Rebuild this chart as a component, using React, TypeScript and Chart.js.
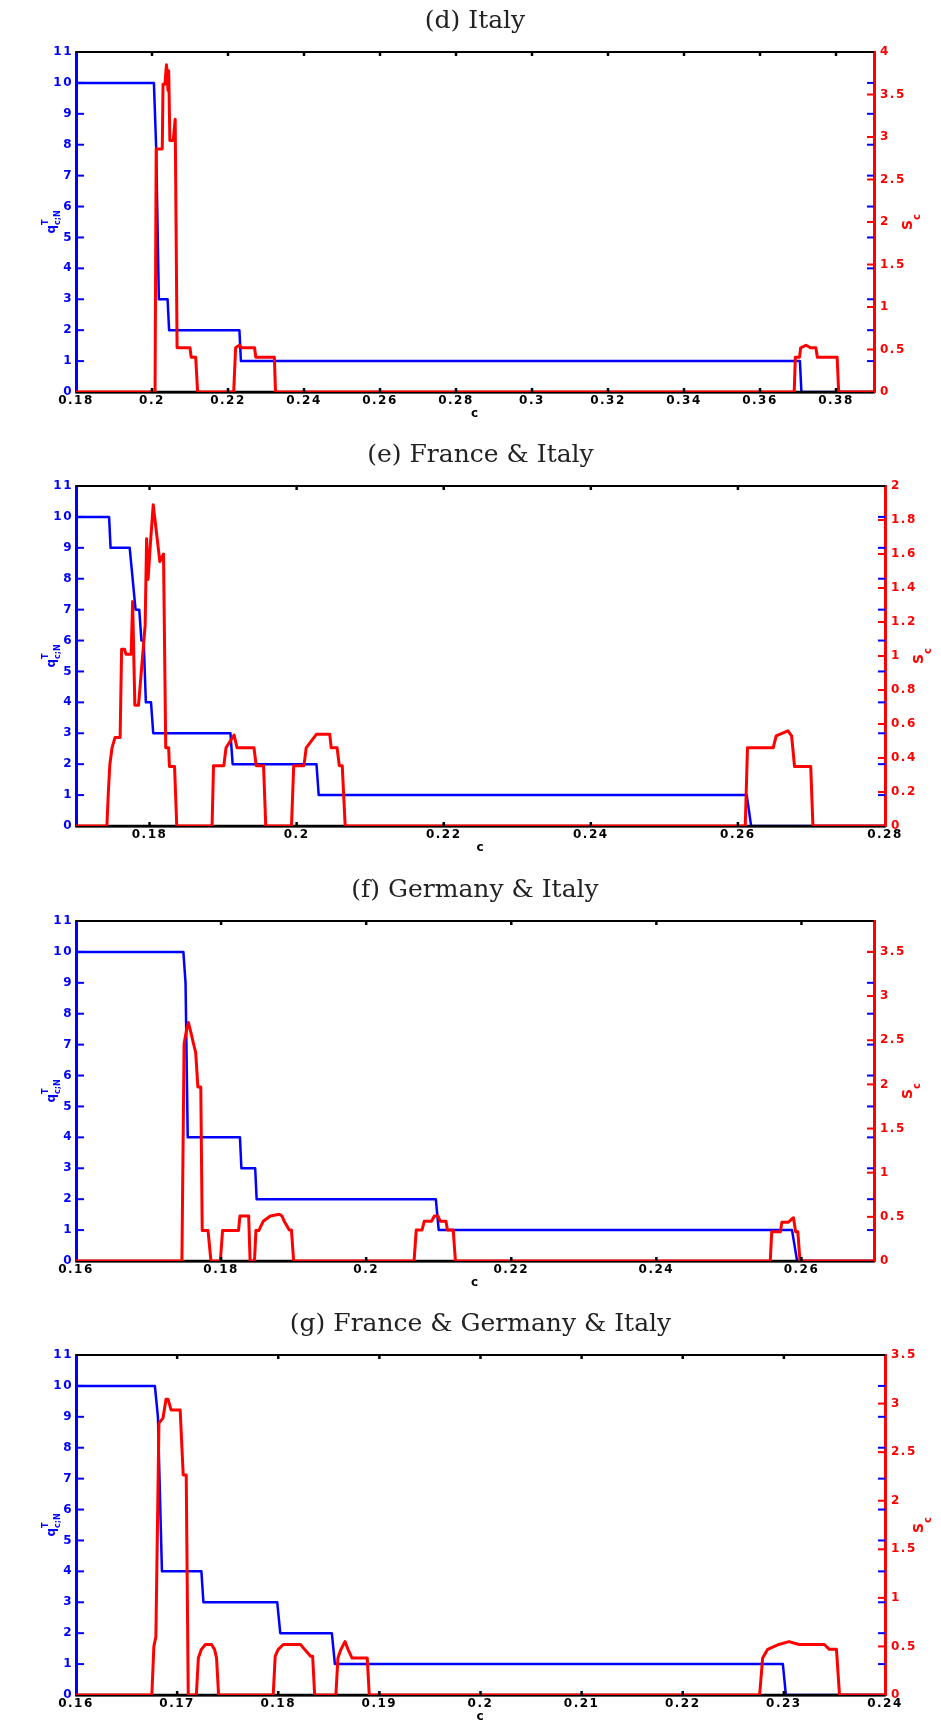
import React, { useEffect, useRef } from "react";
import { Chart, registerables } from "chart.js";

Chart.register(...registerables);

const BLUE = "#0000ff";
const RED = "#ff0000";

// ---------- data ----------
const Q_TICKS = [0, 1, 2, 3, 4, 5, 6, 7, 8, 9, 10, 11];

// (d) Italy
const ITALY_C_TICKS = [0.18, 0.2, 0.22, 0.24, 0.26, 0.28, 0.3, 0.32, 0.34, 0.36, 0.38];
const ITALY_S_TICKS = [0, 0.5, 1, 1.5, 2, 2.5, 3, 3.5, 4];
const ITALY_Q: [number, number][] = [
  [0.18, 10], [0.2005, 10], [0.2011, 7.9], [0.2018, 3], [0.2041, 3], [0.2045, 2], [0.223, 2],
  [0.2234, 1], [0.3705, 1], [0.3709, 0], [0.39, 0],
];
const ITALY_S: [number, number][] = [
  [0.18, 0], [0.2008, 0], [0.2011, 2.86], [0.2027, 2.86], [0.2029, 3.62], [0.2034, 3.62],
  [0.2038, 3.85], [0.204, 3.75], [0.2042, 3.55], [0.2044, 3.78], [0.2047, 2.96], [0.2056, 2.96],
  [0.2061, 3.21], [0.2062, 3.21], [0.2066, 0.52], [0.21, 0.52], [0.2103, 0.41], [0.2115, 0.41],
  [0.212, 0], [0.2215, 0], [0.222, 0.52], [0.223, 0.55], [0.2236, 0.52], [0.227, 0.52],
  [0.2273, 0.41], [0.2322, 0.41], [0.2325, 0], [0.369, 0], [0.3693, 0.41], [0.3704, 0.41],
  [0.3707, 0.52], [0.3721, 0.55], [0.3733, 0.52], [0.3747, 0.52], [0.3751, 0.41], [0.3803, 0.41],
  [0.3807, 0], [0.39, 0],
];

// (e) France & Italy
const FR_IT_C_TICKS = [0.18, 0.2, 0.22, 0.24, 0.26, 0.28];
const FR_IT_S_TICKS = [0, 0.2, 0.4, 0.6, 0.8, 1, 1.2, 1.4, 1.6, 1.8, 2];
const FR_IT_Q: [number, number][] = [
  [0.17, 10], [0.1745, 10], [0.1747, 9], [0.1773, 9], [0.1781, 7], [0.1786, 7], [0.1789, 6],
  [0.1792, 6], [0.1795, 4], [0.1802, 4], [0.1805, 3], [0.191, 3], [0.1913, 2], [0.2027, 2],
  [0.203, 1], [0.2612, 1], [0.2618, 0], [0.28, 0],
];
const FR_IT_S: [number, number][] = [
  [0.17, 0], [0.1742, 0], [0.1744, 0.2], [0.1746, 0.36], [0.1749, 0.46], [0.1753, 0.52],
  [0.176, 0.52], [0.1762, 1.04], [0.1766, 1.04], [0.1768, 1.01], [0.1775, 1.01], [0.1777, 1.32],
  [0.178, 0.71], [0.1785, 0.71], [0.1794, 1.18], [0.1796, 1.69], [0.1798, 1.45], [0.1801, 1.65],
  [0.1805, 1.89], [0.1814, 1.555], [0.1819, 1.6], [0.1822, 0.46], [0.1826, 0.46], [0.1827, 0.35],
  [0.1834, 0.35], [0.1837, 0],
  [0.1885, 0], [0.1887, 0.355], [0.1901, 0.355], [0.1904, 0.46], [0.1915, 0.535], [0.1919, 0.46],
  [0.1942, 0.46], [0.1945, 0.355], [0.1955, 0.355], [0.1958, 0],
  [0.1993, 0], [0.1996, 0.355], [0.201, 0.355], [0.2013, 0.46], [0.2027, 0.54], [0.2045, 0.54],
  [0.2047, 0.46], [0.2055, 0.46], [0.2058, 0.355], [0.2062, 0.355], [0.2066, 0],
  [0.261, 0], [0.2613, 0.46], [0.2648, 0.46], [0.2652, 0.53], [0.2668, 0.56], [0.2673, 0.53],
  [0.2677, 0.35], [0.2699, 0.35], [0.2702, 0], [0.28, 0],
];

// (f) Germany & Italy
const GE_IT_C_TICKS = [0.16, 0.18, 0.2, 0.22, 0.24, 0.26];
const GE_IT_S_TICKS = [0, 0.5, 1, 1.5, 2, 2.5, 3, 3.5];
const GE_IT_Q: [number, number][] = [
  [0.16, 10], [0.1748, 10], [0.1751, 9], [0.1754, 4], [0.1826, 4], [0.1828, 3], [0.1847, 3],
  [0.1849, 2], [0.2096, 2], [0.21, 1], [0.2587, 1], [0.2594, 0], [0.27, 0],
];
const GE_IT_S: [number, number][] = [
  [0.16, 0], [0.1746, 0], [0.1749, 2.46], [0.1752, 2.6], [0.1755, 2.7], [0.1758, 2.6],
  [0.1762, 2.46], [0.1765, 2.36], [0.1768, 1.97], [0.1772, 1.97], [0.1774, 0.344], [0.1782, 0.344],
  [0.1786, 0], [0.1799, 0], [0.1802, 0.344], [0.1824, 0.344], [0.1826, 0.51], [0.1838, 0.51],
  [0.184, 0], [0.1846, 0], [0.1848, 0.344], [0.1852, 0.344], [0.1858, 0.45], [0.1868, 0.51],
  [0.188, 0.53], [0.1884, 0.51], [0.1887, 0.45], [0.1894, 0.35], [0.1897, 0.35], [0.19, 0],
  [0.2066, 0], [0.2069, 0.35], [0.2077, 0.35], [0.208, 0.45], [0.209, 0.45], [0.2094, 0.51],
  [0.2099, 0.51], [0.2102, 0.45], [0.211, 0.45], [0.2112, 0.35], [0.212, 0.35], [0.2123, 0],
  [0.2557, 0], [0.2559, 0.33], [0.2571, 0.33], [0.2573, 0.44], [0.2582, 0.44], [0.2586, 0.47],
  [0.2589, 0.49], [0.2592, 0.33], [0.2595, 0.33], [0.2598, 0], [0.27, 0],
];

// (g) France & Germany & Italy
const FR_GE_IT_C_TICKS = [0.16, 0.17, 0.18, 0.19, 0.2, 0.21, 0.22, 0.23, 0.24];
const FR_GE_IT_S_TICKS = [0, 0.5, 1, 1.5, 2, 2.5, 3, 3.5];
const FR_GE_IT_Q: [number, number][] = [
  [0.16, 10], [0.1678, 10], [0.1681, 9], [0.1685, 4], [0.1724, 4], [0.1726, 3], [0.1799, 3],
  [0.1802, 2], [0.1853, 2], [0.1856, 1], [0.2299, 1], [0.2302, 0], [0.24, 0],
];
const FR_GE_IT_S: [number, number][] = [
  [0.16, 0], [0.1675, 0], [0.1677, 0.5], [0.1679, 0.6], [0.1682, 2.8], [0.1686, 2.85],
  [0.1689, 3.045], [0.1691, 3.045], [0.1694, 2.935], [0.1703, 2.935], [0.1706, 2.265],
  [0.1709, 2.265], [0.1711, 0],
  [0.1719, 0], [0.1721, 0.38], [0.1724, 0.47], [0.1728, 0.52], [0.1734, 0.52], [0.1737, 0.47],
  [0.1739, 0.38], [0.1741, 0],
  [0.1795, 0], [0.1797, 0.4], [0.18, 0.47], [0.1805, 0.52], [0.1822, 0.52], [0.1826, 0.47],
  [0.1832, 0.4], [0.1834, 0.4], [0.1836, 0],
  [0.1857, 0], [0.1859, 0.38], [0.1862, 0.47], [0.1866, 0.55], [0.1869, 0.47], [0.1873, 0.38],
  [0.1888, 0.38], [0.189, 0],
  [0.2276, 0], [0.2279, 0.38], [0.2284, 0.47], [0.2295, 0.52], [0.2305, 0.55], [0.2315, 0.52],
  [0.234, 0.52], [0.2345, 0.47], [0.2352, 0.47], [0.2355, 0], [0.24, 0],
];

// ---------- panels ----------
type Panel = {
  title: string;
  cMin: number;
  cMax: number;
  cTicks: number[];
  sMax: number;
  sTicks: number[];
  q: [number, number][];
  s: [number, number][];
  top: number;
  height: number;
  rightX: number;
};

const PANELS: Panel[] = [
  { title: "(d) Italy", cMin: 0.18, cMax: 0.39, cTicks: ITALY_C_TICKS, sMax: 4, sTicks: ITALY_S_TICKS, q: ITALY_Q, s: ITALY_S, top: 0, height: 434, rightX: 874 },
  { title: "(e) France & Italy", cMin: 0.17, cMax: 0.28, cTicks: FR_IT_C_TICKS, sMax: 2, sTicks: FR_IT_S_TICKS, q: FR_IT_Q, s: FR_IT_S, top: 434, height: 435, rightX: 885 },
  { title: "(f) Germany & Italy", cMin: 0.16, cMax: 0.27, cTicks: GE_IT_C_TICKS, sMax: 3.85, sTicks: GE_IT_S_TICKS, q: GE_IT_Q, s: GE_IT_S, top: 869, height: 434, rightX: 874 },
  { title: "(g) France & Germany & Italy", cMin: 0.16, cMax: 0.24, cTicks: FR_GE_IT_C_TICKS, sMax: 3.5, sTicks: FR_GE_IT_S_TICKS, q: FR_GE_IT_Q, s: FR_GE_IT_S, top: 1303, height: 418, rightX: 885 },
];

const W = 941;
const PLOT_TOP = 52;
const PLOT_BOTTOM = 392;
const TICK_FONT = { family: "'DejaVu Sans', sans-serif", size: 12, weight: "bold" as const };

const fmt = (v: number) => String(Math.round(v * 1000) / 1000);

function line(ctx: CanvasRenderingContext2D, x1: number, y1: number, x2: number, y2: number) {
  ctx.beginPath();
  ctx.moveTo(x1, y1);
  ctx.lineTo(x2, y2);
  ctx.stroke();
}

const matlabPlugin = {
  id: "matlabLook",
  beforeDraw(chart: any) {
    (chart.ctx as any).letterSpacing = "1.5px";
  },
  afterDatasetDraw(chart: any, args: any) {
    if (args.index !== 0) return;
    const { ctx, chartArea: a } = chart;
    ctx.save();
    ctx.strokeStyle = "#000";
    ctx.lineWidth = 2.5;
    line(ctx, a.left, a.bottom, a.right, a.bottom);
    ctx.restore();
  },
  afterDraw(chart: any) {
    const { ctx, chartArea: a, scales } = chart;
    const panel: Panel = chart.options.plugins.matlabLook.panel;
    const xs = scales.x, ys = scales.y, ys1 = scales.y1;
    ctx.save();
    (ctx as any).letterSpacing = "0px";
    // top frame line
    ctx.strokeStyle = "#000";
    ctx.lineWidth = 2;
    line(ctx, a.left, a.top, a.right, a.top);
    // inward c ticks
    ctx.lineWidth = 2.5;
    for (const t of xs.ticks) {
      const px = xs.getPixelForValue(t.value);
      if (px <= a.left + 1 || px >= a.right - 1) continue;
      line(ctx, px, a.bottom, px, a.bottom - 4);
      line(ctx, px, a.top, px, a.top + 4);
    }
    // blue ticks left and mirrored right
    ctx.lineWidth = 2;
    ctx.strokeStyle = BLUE;
    for (const t of ys.ticks) {
      const py = ys.getPixelForValue(t.value);
      if (py <= a.top + 1 || py >= a.bottom - 1) continue;
      line(ctx, a.left, py, a.left + 8, py);
      line(ctx, a.right, py, a.right - 7, py);
    }
    // red ticks right
    ctx.strokeStyle = RED;
    for (const t of ys1.ticks) {
      const py = ys1.getPixelForValue(t.value);
      if (py <= a.top + 1 || py >= a.bottom - 1) continue;
      line(ctx, a.right, py, a.right - 7, py);
    }
    // panel title
    ctx.fillStyle = "#222";
    ctx.font = "25px 'DejaVu Serif', serif";
    ctx.textAlign = "center";
    ctx.textBaseline = "middle";
    ctx.fillText(panel.title, (a.left + a.right) / 2, a.top - 31);

    // x label "c"
    (ctx as any).letterSpacing = "1px";
    ctx.fillStyle = "#000";
    ctx.font = "bold 12px 'DejaVu Sans', sans-serif";
    ctx.textBaseline = "alphabetic";
    ctx.fillText("c", (a.left + a.right) / 2, a.bottom + 25);
    (ctx as any).letterSpacing = "0px";

    // left y label: q^T_{c;N}, rotated
    const cyL = (a.top + a.bottom) / 2;
    ctx.save();
    ctx.translate(55, cyL);
    ctx.rotate(-Math.PI / 2);
    ctx.fillStyle = BLUE;
    ctx.textAlign = "left";
    ctx.font = "bold 12px 'DejaVu Sans', sans-serif";
    const wq = ctx.measureText("q").width;
    ctx.font = "bold 8px 'DejaVu Sans', sans-serif";
    const wsub = ctx.measureText("c;N").width;
    const wsup = ctx.measureText("T").width;
    const total = wq + Math.max(wsub, wsup);
    const x0 = -total / 2;
    ctx.font = "bold 12px 'DejaVu Sans', sans-serif";
    ctx.fillText("q", x0, 0);
    ctx.font = "bold 8px 'DejaVu Sans', sans-serif";
    ctx.fillText("T", x0 + wq, -7);
    ctx.fillText("c;N", x0 + wq, 5);
    ctx.restore();

    // right y label: S_c, rotated
    ctx.save();
    ctx.translate(a.right + 38, cyL);
    ctx.rotate(-Math.PI / 2);
    ctx.fillStyle = RED;
    ctx.textAlign = "left";
    ctx.font = "bold 14px 'DejaVu Sans', sans-serif";
    const ws = ctx.measureText("S").width;
    ctx.font = "bold 10px 'DejaVu Sans', sans-serif";
    const wc = ctx.measureText("c").width;
    const xs0 = -(ws + wc) / 2;
    ctx.font = "bold 14px 'DejaVu Sans', sans-serif";
    ctx.fillText("S", xs0, 0);
    ctx.font = "bold 10px 'DejaVu Sans', sans-serif";
    ctx.fillText("c", xs0 + ws, 8);
    ctx.restore();

    ctx.restore();
  },
};

function PanelChart({ panel }: { panel: Panel }) {
  const ref = useRef<HTMLCanvasElement | null>(null);
  useEffect(() => {
    if (!ref.current) return;
    const xHeight = panel.height - PLOT_BOTTOM;
    const chart = new Chart(ref.current, {
      type: "line",
      data: {
        datasets: [
          {
            label: "q",
            data: panel.q.map(([c, v]) => ({ x: c, y: v })),
            borderColor: BLUE,
            borderWidth: 2.5,
            pointRadius: 0,
            tension: 0,
            yAxisID: "y",
            order: 2,
            borderJoinStyle: "round",
          },
          {
            label: "S",
            data: panel.s.map(([c, v]) => ({ x: c, y: v })),
            borderColor: RED,
            borderWidth: 3,
            pointRadius: 0,
            tension: 0,
            yAxisID: "y1",
            order: 1,
            borderJoinStyle: "round",
          },
        ],
      },
      options: {
        responsive: false,
        animation: false,
        devicePixelRatio: 1,
        layout: { padding: { top: PLOT_TOP, left: 0, right: 0, bottom: 0 } },
        plugins: {
          legend: { display: false },
          tooltip: { enabled: false },
          title: { display: false },
          matlabLook: { panel },
        } as any,
        scales: {
          x: {
            type: "linear",
            position: "bottom",
            min: panel.cMin,
            max: panel.cMax,
            grid: { display: false, drawTicks: false },
            border: { display: true, color: "#000", width: 2.5 },
            afterBuildTicks: (axis: any) => {
              axis.ticks = panel.cTicks.map((v) => ({ value: v }));
            },
            afterFit: (s: any) => {
              s.height = xHeight;
            },
            ticks: {
              autoSkip: false,
              maxRotation: 0,
              minRotation: 0,
              padding: 2,
              color: "#000",
              font: TICK_FONT,
              callback: (v: any) => fmt(Number(v)),
            },
          },
          y: {
            type: "linear",
            position: "left",
            min: 0,
            max: 11,
            grid: { display: false, drawTicks: false },
            border: { display: true, color: BLUE, width: 3 },
            afterBuildTicks: (axis: any) => {
              axis.ticks = Q_TICKS.map((v) => ({ value: v }));
            },
            afterFit: (s: any) => {
              s.width = 76;
            },
            ticks: {
              padding: 3,
              color: BLUE,
              font: TICK_FONT,
              callback: (v: any) => fmt(Number(v)),
            },
          },
          y1: {
            type: "linear",
            position: "right",
            min: 0,
            max: panel.sMax,
            grid: { display: false, drawTicks: false },
            border: { display: true, color: RED, width: 3 },
            afterBuildTicks: (axis: any) => {
              axis.ticks = panel.sTicks.map((v) => ({ value: v }));
            },
            afterFit: (s: any) => {
              s.width = W - panel.rightX;
            },
            ticks: {
              padding: 6,
              color: RED,
              font: TICK_FONT,
              callback: (v: any) => fmt(Number(v)),
            },
          },
        },
      } as any,
      plugins: [matlabPlugin as any],
    });
    return () => chart.destroy();
  }, [panel]);
  return (
    <canvas
      ref={ref}
      width={W}
      height={panel.height}
      style={{ position: "absolute", left: 0, top: panel.top, width: W, height: panel.height, display: "block" }}
    />
  );
}

export default function App() {
  return (
    <div style={{ position: "absolute", left: 0, top: 0, width: W, height: 1721, background: "#fff", overflow: "hidden" }}>
      {PANELS.map((p) => (
        <PanelChart key={p.title} panel={p} />
      ))}
    </div>
  );
}
